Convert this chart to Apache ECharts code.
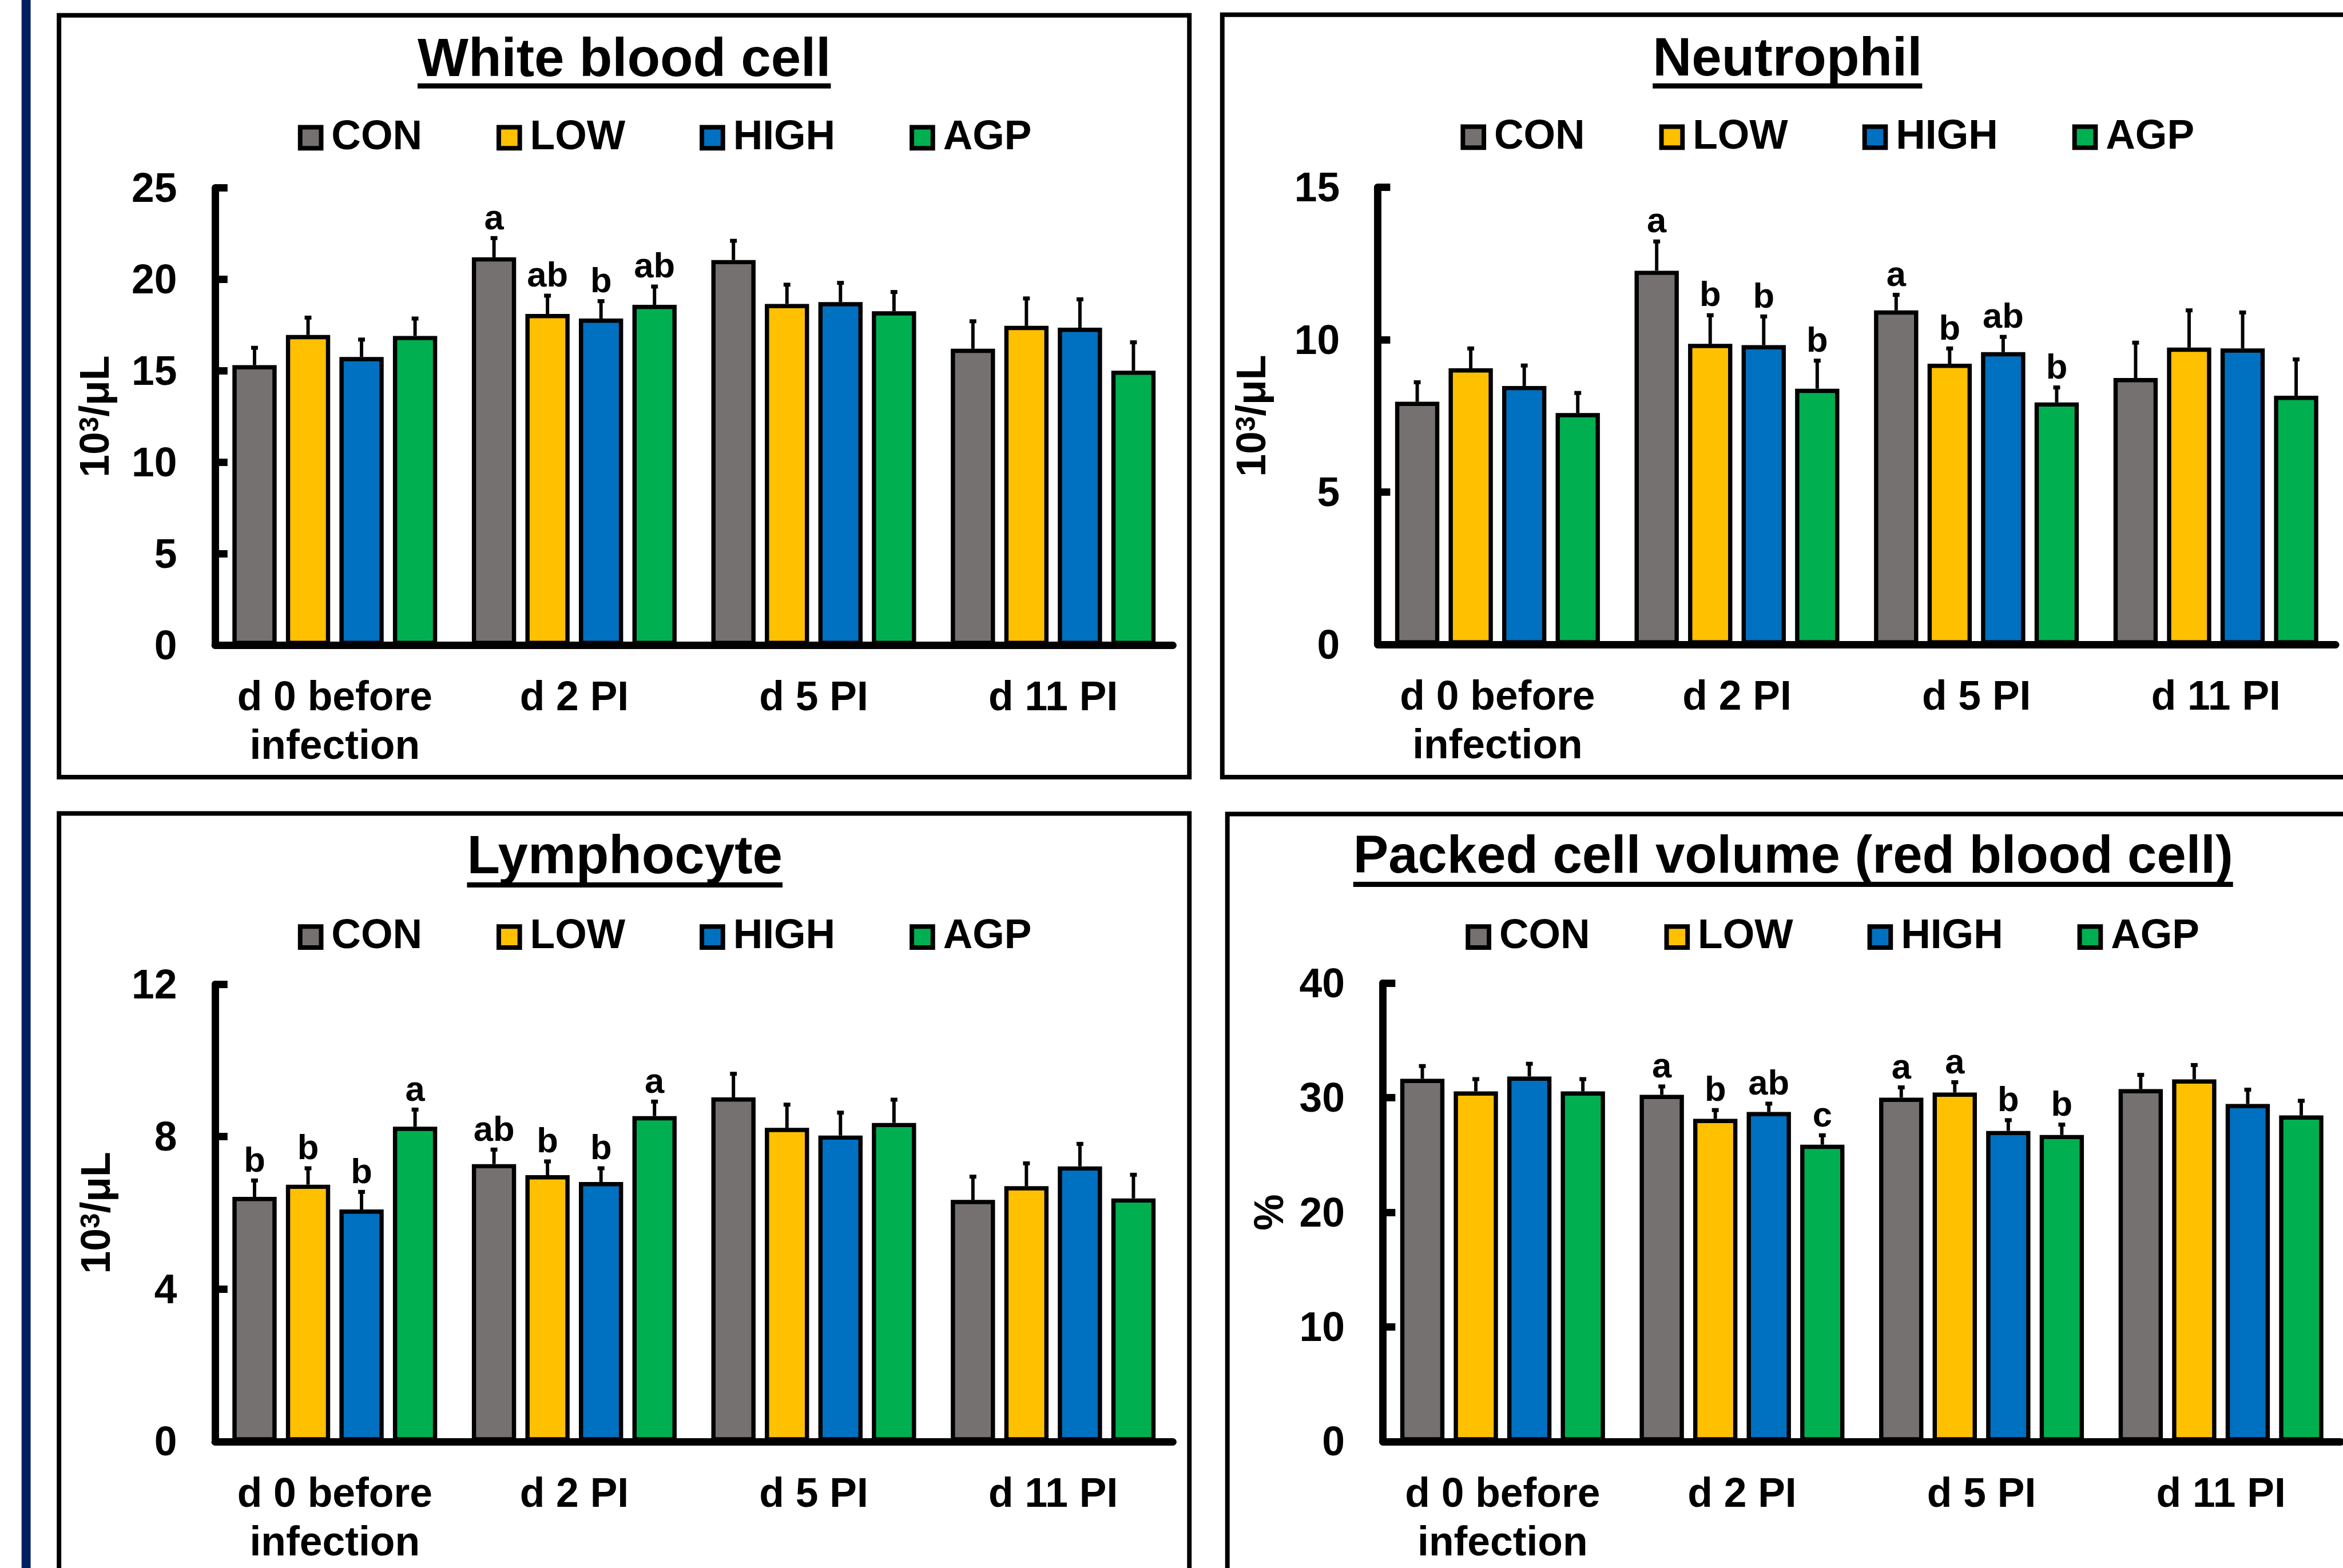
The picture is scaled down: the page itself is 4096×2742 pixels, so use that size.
<!DOCTYPE html>
<html><head><meta charset="utf-8">
<script src="https://cdn.jsdelivr.net/npm/echarts@6/dist/echarts.min.js"></script>
<style>html,body{margin:0;padding:0;background:#fff;overflow:hidden}#c{width:4096px;height:2742px}</style>
</head><body><div id="c"></div>
<script>
// ---------- data ----------
const categories = ['d 0 before\ninfection', 'd 2 PI', 'd 5 PI', 'd 11 PI'];
const groups = ['CON', 'LOW', 'HIGH', 'AGP'];

// rows: CON, LOW, HIGH, AGP ; columns: categories
const wbcMeans = [[15.3, 21.2, 21.05, 16.2], [16.95, 18.1, 18.65, 17.45], [15.75, 17.85, 18.75, 17.35], [16.9, 18.6, 18.25, 15.0]];
const wbcSE = [[0.95, 1.05, 1.05, 1.5], [0.95, 1.0, 1.05, 1.5], [0.95, 0.95, 1.05, 1.55], [0.95, 1.0, 1.05, 1.55]];
const wbcLetters = [['', 'a', '', ''], ['', 'ab', '', ''], ['', 'b', '', ''], ['', 'ab', '', '']];

const neuMeans = [[7.96, 12.26, 10.96, 8.74], [9.06, 9.86, 9.21, 9.74], [8.48, 9.82, 9.59, 9.71], [7.59, 8.39, 7.94, 8.16]];
const neuSE = [[0.64, 0.96, 0.51, 1.16], [0.65, 0.94, 0.5, 1.22], [0.67, 0.94, 0.5, 1.18], [0.66, 0.92, 0.49, 1.19]];
const neuLetters = [['', 'a', 'a', ''], ['', 'b', 'b', ''], ['', 'b', 'ab', ''], ['', 'b', 'b', '']];

const lymMeans = [[6.42, 7.28, 9.03, 6.34], [6.74, 6.99, 8.23, 6.7], [6.09, 6.81, 8.03, 7.22], [8.26, 8.54, 8.36, 6.38]];
const lymSE = [[0.43, 0.38, 0.62, 0.61], [0.43, 0.36, 0.61, 0.6], [0.46, 0.36, 0.6, 0.59], [0.45, 0.38, 0.61, 0.62]];
const lymLetters = [['b', 'ab', '', ''], ['b', 'b', '', ''], ['b', 'b', '', ''], ['a', 'a', '', '']];

const pcvMeans = [[31.65, 30.25, 30.0, 30.75], [30.55, 28.15, 30.45, 31.6], [31.85, 28.75, 27.1, 29.45], [30.55, 25.9, 26.75, 28.45]];
const pcvSE = [[1.11, 0.73, 0.9, 1.24], [1.07, 0.77, 0.9, 1.25], [1.11, 0.73, 0.94, 1.25], [1.07, 0.82, 0.9, 1.28]];
const pcvLetters = [['', 'a', 'a', ''], ['', 'b', 'a', ''], ['', 'ab', 'b', ''], ['', 'c', 'b', '']];

const titles = ['White blood cell', 'Neutrophil', 'Lymphocyte', 'Packed cell volume (red blood cell)'];
const yNames = ['{a|10}{s|3}{a|/μL}', '{a|10}{s|3}{a|/μL}', '{a|10}{s|3}{a|/μL}', '{a|%}'];
const yMax = [25, 15, 12, 40];
const yInterval = [5, 5, 4, 10];

// ---------- styles / layout (reference pixels) ----------
const S = 0.992;
const s = v => v * S;
const FONT = '"Liberation Sans", Arial, Helvetica, sans-serif';
const colors = ['#767171', '#FFC000', '#0070C0', '#00B050'];

const layout = [
  { grid: [379, 331, 1688, 806], frame: [104, 27, 1992, 1343], tx: 1100, tb: 141, tf: 95, ul: 151.5, legY: 243, nameGap: 171 },
  { grid: [2428, 330, 1688, 806], frame: [2154, 26, 1992, 1344], tx: 3150, tb: 140, tf: 95, ul: 151.5, legY: 242, nameGap: 182 },
  { grid: [379, 1735, 1688, 811], frame: [104, 1434, 1992, 1420], tx: 1101, tb: 1546.5, tf: 95, ul: 1560, legY: 1652, nameGap: 169 },
  { grid: [2437, 1733, 1688, 813], frame: [2163, 1435, 1992, 1420], tx: 3160, tb: 1545, tf: 93, ul: 1559, legY: 1652, nameGap: 160 }
];
const panelData = [
  { means: wbcMeans, se: wbcSE, letters: wbcLetters },
  { means: neuMeans, se: neuSE, letters: neuLetters },
  { means: lymMeans, se: lymSE, letters: lymLetters },
  { means: pcvMeans, se: pcvSE, letters: pcvLetters }
];

const BAR_W = 78, BAR_PITCH = 94.3;

const measureCtx = document.createElement('canvas').getContext('2d');
function textWidth(t, size) {
  measureCtx.font = 'bold ' + size + 'px ' + FONT;
  return measureCtx.measureText(t).width;
}

const grids = [], xAxes = [], yAxes = [], series = [], legends = [], graphics = [];

graphics.push({ type: 'rect', shape: { x: s(38), y: 0, width: s(16), height: 2742 }, style: { fill: '#002060' } });

layout.forEach((L, pi) => {
  const d = panelData[pi];
  grids.push({ left: s(L.grid[0]), top: s(L.grid[1]), width: s(L.grid[2]), height: s(L.grid[3]), containLabel: false });
  xAxes.push({
    type: 'category', gridIndex: pi, data: categories,
    axisLine: { lineStyle: { color: '#000', width: s(13) } },
    axisTick: { show: false },
    axisLabel: { interval: 0, color: '#000', fontFamily: FONT, fontWeight: 'bold', fontSize: s(72), lineHeight: s(85), margin: s(53) }
  });
  yAxes.push({
    type: 'value', gridIndex: pi, min: 0, max: yMax[pi], interval: yInterval[pi],
    name: yNames[pi], nameLocation: 'middle', nameRotate: 90, nameGap: s(L.nameGap),
    nameTextStyle: {
      color: '#000', fontFamily: FONT, fontWeight: 'bold', fontSize: s(72),
      rich: {
        a: { color: '#000', fontFamily: FONT, fontWeight: 'bold', fontSize: s(72), lineHeight: s(72) },
        s: { color: '#000', fontFamily: FONT, fontWeight: 'bold', fontSize: s(48), lineHeight: s(48), verticalAlign: 'top' }
      }
    },
    axisLine: { show: true, lineStyle: { color: '#000', width: s(13) } },
    axisTick: { show: true, inside: true, length: s(22), lineStyle: { color: '#000', width: s(13) } },
    splitLine: { show: false },
    axisLabel: { color: '#000', fontFamily: FONT, fontWeight: 'bold', fontSize: s(72), margin: s(67), verticalAlign: 'top', lineHeight: s(10) }
  });
  groups.forEach((g, gi) => {
    series.push({
      type: 'bar', name: g, xAxisIndex: pi, yAxisIndex: pi,
      data: d.means[gi], barWidth: s(BAR_W), barGap: ((BAR_PITCH - BAR_W) / BAR_W * 100).toFixed(1) + '%',
      itemStyle: { color: colors[gi], borderColor: '#000', borderWidth: s(7.5) },
      emphasis: { disabled: true }, silent: true, z: 2
    });
    series.push({
      type: 'custom', name: g + ' SE', xAxisIndex: pi, yAxisIndex: pi, z: 3, silent: true,
      data: d.means[gi].map((m, ci) => [ci, m, m + d.se[gi][ci]]),
      renderItem: (params, api) => {
        const ci = api.value(0);
        const base = api.coord([ci, api.value(1)]);
        const top = api.coord([ci, api.value(2)]);
        const x = base[0] + (gi - 1.5) * s(BAR_PITCH);
        const children = [
          { type: 'line', shape: { x1: x, y1: base[1], x2: x, y2: top[1] }, style: { stroke: '#000', lineWidth: s(6) } },
          { type: 'line', shape: { x1: x - s(6), y1: top[1], x2: x + s(6), y2: top[1] }, style: { stroke: '#000', lineWidth: s(7) } }
        ];
        const letter = d.letters[gi][ci];
        if (letter) {
          children.push({ type: 'text', style: { text: letter, x: x, y: top[1] - s(33), align: 'center', verticalAlign: 'middle',
            font: 'bold ' + s(62) + 'px ' + FONT, fill: '#000' } });
        }
        return { type: 'group', children };
      }
    });
  });
  legends.push({
    data: groups, left: s(L.grid[0] + 146), top: s(L.legY - 36), padding: 0,
    icon: 'rect', itemWidth: s(37), itemHeight: s(37), itemGap: s(131), selectedMode: false,
    itemStyle: { borderColor: '#000', borderWidth: s(8) },
    textStyle: { color: '#000', fontFamily: FONT, fontWeight: 'bold', fontSize: s(72), padding: [0, 0, 0, s(13)] }
  });
  // frame
  graphics.push({ type: 'rect', shape: { x: s(L.frame[0]), y: s(L.frame[1]), width: s(L.frame[2]), height: s(L.frame[3]) },
    style: { fill: 'none', stroke: '#000', lineWidth: s(8) } });
  // title + underline
  const fs = s(L.tf);
  const w = textWidth(titles[pi], fs);
  graphics.push({ type: 'text', x: s(L.tx), y: s(L.tb - 0.3465 * L.tf),
    style: { text: titles[pi], font: 'bold ' + fs + 'px ' + FONT, fill: '#000', align: 'center', verticalAlign: 'middle' } });
  graphics.push({ type: 'line', shape: { x1: s(L.tx) - w / 2, y1: s(L.ul), x2: s(L.tx) + w / 2, y2: s(L.ul) },
    style: { stroke: '#000', lineWidth: s(9) } });
});

const chart = echarts.init(document.getElementById('c'), null, { renderer: 'canvas' });
chart.setOption({
  backgroundColor: '#fff',
  animation: false,
  grid: grids, xAxis: xAxes, yAxis: yAxes, legend: legends, series: series,
  graphic: { elements: graphics }
});
</script>
</body></html>
